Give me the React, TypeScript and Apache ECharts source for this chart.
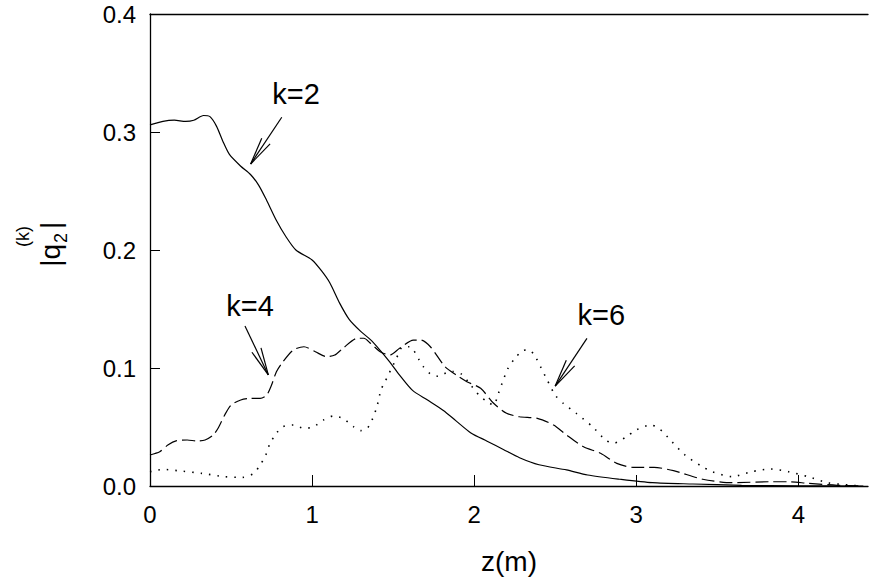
import React, { useEffect, useRef } from "react";
import * as echarts from "echarts";

// ---- data ----
const zK2 = [0, 0.08, 0.15, 0.22, 0.27, 0.33, 0.37, 0.41, 0.45, 0.49, 0.56, 0.62, 0.67, 0.72, 0.78, 0.84, 0.9, 1.0, 1.06, 1.11, 1.17, 1.23, 1.3, 1.36, 1.42, 1.48, 1.54, 1.62, 1.71, 1.81, 1.89, 1.98, 2.08, 2.18, 2.28, 2.4, 2.57, 2.7, 2.9, 3.1, 3.35, 3.65, 4.0, 4.4];
const qK2 = [0.306, 0.309, 0.31, 0.309, 0.31, 0.314, 0.313, 0.305, 0.292, 0.281, 0.271, 0.264, 0.255, 0.242, 0.225, 0.211, 0.2, 0.1915, 0.182, 0.172, 0.155, 0.141, 0.131, 0.124, 0.115, 0.105, 0.094, 0.081, 0.073, 0.064, 0.055, 0.045, 0.038, 0.031, 0.024, 0.018, 0.0136, 0.0093, 0.0057, 0.0028, 0.0017, 0.0006, 0.0002, 0];

const zK4 = [0, 0.06, 0.11, 0.165, 0.23, 0.29, 0.34, 0.39, 0.42, 0.46, 0.5, 0.56, 0.62, 0.68, 0.72, 0.75, 0.78, 0.82, 0.885, 0.95, 1.02, 1.09, 1.14, 1.19, 1.28, 1.32, 1.36, 1.42, 1.48, 1.54, 1.625, 1.67, 1.73, 1.82, 1.89, 1.955, 2.04, 2.12, 2.2, 2.28, 2.39, 2.49, 2.57, 2.675, 2.78, 2.88, 2.98, 3.11, 3.23, 3.41, 3.59, 3.83, 3.94, 4.06, 4.24, 4.4];
const qK4 = [0.0263, 0.029, 0.0347, 0.0384, 0.039, 0.0381, 0.039, 0.0432, 0.0489, 0.06, 0.0686, 0.0729, 0.0743, 0.0743, 0.0771, 0.0856, 0.0969, 0.1053, 0.1153, 0.118, 0.1138, 0.1096, 0.111, 0.1167, 0.1252, 0.1252, 0.121, 0.1138, 0.111, 0.1167, 0.1237, 0.1237, 0.118, 0.1011, 0.094, 0.0884, 0.0828, 0.0701, 0.0616, 0.0587, 0.0573, 0.0517, 0.0432, 0.0333, 0.0277, 0.0192, 0.0158, 0.0158, 0.013, 0.0057, 0.0028, 0.0036, 0.0036, 0.0023, 0.0006, 0];

const zK6 = [0, 0.08, 0.17, 0.32, 0.46, 0.57, 0.64, 0.68, 0.71, 0.74, 0.78, 0.82, 0.885, 0.95, 1.01, 1.07, 1.13, 1.19, 1.255, 1.3, 1.34, 1.37, 1.4, 1.425, 1.45, 1.47, 1.52, 1.56, 1.6, 1.625, 1.656, 1.687, 1.73, 1.78, 1.83, 1.87, 1.92, 1.965, 2.03, 2.08, 2.12, 2.15, 2.18, 2.21, 2.25, 2.3, 2.34, 2.38, 2.41, 2.45, 2.5, 2.55, 2.63, 2.73, 2.81, 2.86, 2.94, 3.0, 3.09, 3.14, 3.22, 3.3, 3.4, 3.47, 3.59, 3.71, 3.83, 3.94, 4.06, 4.18, 4.33, 4.4];
const qK6 = [0.0121, 0.0141, 0.013, 0.0107, 0.0079, 0.0073, 0.0107, 0.018, 0.0248, 0.036, 0.0447, 0.0503, 0.0517, 0.0489, 0.0503, 0.0559, 0.0593, 0.0573, 0.0503, 0.0469, 0.0489, 0.0559, 0.0672, 0.0814, 0.0884, 0.094, 0.108, 0.118, 0.118, 0.1153, 0.108, 0.101, 0.095, 0.093, 0.096, 0.097, 0.095, 0.088, 0.077, 0.0715, 0.0686, 0.0786, 0.09, 0.1, 0.108, 0.1147, 0.1153, 0.109, 0.101, 0.09, 0.077, 0.07, 0.0616, 0.0503, 0.039, 0.0362, 0.0418, 0.0475, 0.0517, 0.0489, 0.0376, 0.0263, 0.017, 0.0121, 0.0079, 0.0121, 0.0144, 0.0121, 0.0079, 0.0028, 0.0006, 0];

const xTicks = [0, 1, 2, 3, 4];
const seriesLabels = ["k=2", "k=4", "k=6"];
// annotation anchors in data space: [label centre, arrow tail, arrow tip]
const annLabel = [[0.901, 0.3322], [0.617, 0.1525], [2.784, 0.1449]];
const annTail = [[0.813, 0.3125], [0.586, 0.1356], [2.696, 0.1251]];
const annTip = [[0.621, 0.2729], [0.73, 0.0941], [2.5, 0.0847]];

const FONT = '"Liberation Sans", Arial, Helvetica, sans-serif';

function pairs(z: number[], q: number[]) {
  return z.map((v, i) => [v, q[i]]);
}

export default function App() {
  const ref = useRef<HTMLDivElement>(null);
  useEffect(() => {
    document.body.style.margin = "0";
    const chart = echarts.init(ref.current!, null, { renderer: "svg" });
    const axisLineStyle = { color: "#000", width: 1.3 };
    const lineBase = { color: "#000" };
    chart.setOption({
      animation: false,
      backgroundColor: "#fff",
      grid: { left: 150, top: 14, right: 1, bottom: 96, containLabel: false },
      xAxis: [
        {
          type: "value",
          min: 0,
          max: 4.43,
          position: "bottom",
          axisLine: { show: true, onZero: false, lineStyle: axisLineStyle },
          axisTick: { show: true, inside: true, length: 11, customValues: xTicks, lineStyle: { color: "#000", width: 1 } },
          axisLabel: { customValues: xTicks, color: "#000", fontSize: 24, fontFamily: FONT, margin: 16 },
          splitLine: { show: false },
          name: "z(m)",
          nameLocation: "middle",
          nameGap: 61,
          nameTextStyle: { color: "#000", fontSize: 28, fontFamily: FONT },
        },
        {
          type: "value",
          min: 0,
          max: 4.43,
          position: "top",
          axisLine: { show: true, onZero: false, lineStyle: axisLineStyle },
          axisTick: { show: false },
          axisLabel: { show: false },
          splitLine: { show: false },
        },
      ],
      yAxis: {
        type: "value",
        min: 0,
        max: 0.4,
        interval: 0.1,
        axisLine: { show: true, onZero: false, lineStyle: axisLineStyle },
        axisTick: { show: true, inside: true, length: 10, lineStyle: { color: "#000", width: 1 } },
        axisLabel: { color: "#000", fontSize: 24, fontFamily: FONT, margin: 14, formatter: (v: number) => v.toFixed(1) },
        splitLine: { show: false },
      },
      series: [
        {
          type: "line", name: seriesLabels[0], data: pairs(zK2, qK2), showSymbol: false, symbol: "none", smooth: 0.25,
          lineStyle: { ...lineBase, width: 1.2, type: "solid" },
        },
        {
          type: "line", name: seriesLabels[1], data: pairs(zK4, qK4), showSymbol: false, symbol: "none", smooth: 0.25,
          lineStyle: { ...lineBase, width: 1.2, type: [13, 5] },
        },
        {
          type: "line", name: seriesLabels[2], data: pairs(zK6, qK6), showSymbol: false, symbol: "none", smooth: 0.25,
          lineStyle: { ...lineBase, width: 1.6, type: [1.5, 7] },
        },
      ],
    });

    const toPx = (p: number[]) => chart.convertToPixel({ gridIndex: 0 }, p) as number[];
    const graphics: any[] = [];
    seriesLabels.forEach((lab, i) => {
      const c = toPx(annLabel[i]);
      const tail = toPx(annTail[i]);
      const tip = toPx(annTip[i]);
      graphics.push({
        type: "text", x: c[0], y: c[1],
        style: { text: lab, fill: "#000", fontSize: 29, fontFamily: FONT, align: "center", verticalAlign: "middle" },
      });
      graphics.push({ type: "line", shape: { x1: tail[0], y1: tail[1], x2: tip[0], y2: tip[1] }, style: { stroke: "#000", lineWidth: 1.2 } });
      const dx = tail[0] - tip[0], dy = tail[1] - tip[1];
      const len = Math.hypot(dx, dy);
      const ux = dx / len, uy = dy / len;
      [0.18, -0.18].forEach((a) => {
        const bx = ux * Math.cos(a) - uy * Math.sin(a);
        const by = ux * Math.sin(a) + uy * Math.cos(a);
        graphics.push({
          type: "line",
          shape: { x1: tip[0], y1: tip[1], x2: tip[0] + bx * 28, y2: tip[1] + by * 28 },
          style: { stroke: "#000", lineWidth: 1.2 },
        });
      });
    });
    // y-axis title |q_2^(k)| rotated
    graphics.push({
      type: "group", x: 50, y: 250, rotation: Math.PI / 2,
      children: [
        { type: "text", x: 6, y: 0, style: { text: "|q", fill: "#000", fontSize: 28, fontFamily: FONT, align: "right", verticalAlign: "middle" } },
        { type: "text", x: 7, y: 11, style: { text: "2", fill: "#000", fontSize: 18, fontFamily: FONT, align: "left", verticalAlign: "middle" } },
        { type: "text", x: 3, y: -27, style: { text: "(k)", fill: "#000", fontSize: 18, fontFamily: FONT, align: "left", verticalAlign: "middle" } },
        { type: "text", x: 21, y: 0, style: { text: "|", fill: "#000", fontSize: 28, fontFamily: FONT, align: "left", verticalAlign: "middle" } },
      ],
    });
    chart.setOption({ graphic: graphics });
    return () => chart.dispose();
  }, []);
  return <div ref={ref} style={{ position: "fixed", left: 0, top: 0, width: 869, height: 582 }} />;
}
